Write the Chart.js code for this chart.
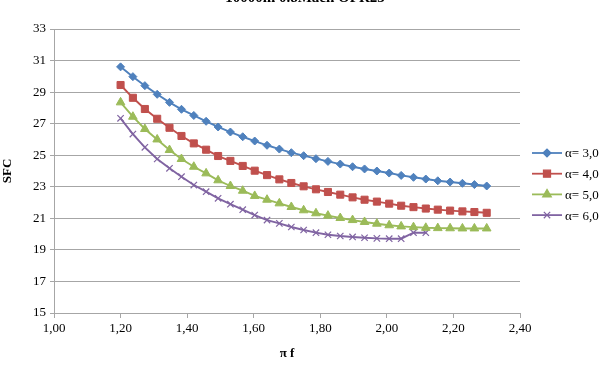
<!DOCTYPE html>
<html>
<head>
<meta charset="utf-8">
<script src="https://cdn.jsdelivr.net/npm/chart.js@4"></script>
<style>
  html, body { margin: 0; padding: 0; background: #fff; }
  #wrap { width: 610px; height: 367px; }
</style>
</head>
<body>
<div id="wrap"><canvas id="grafico"></canvas></div>
<script>
var titulo = '10000m 0.8Mach OPR25';

var piF = [1.200, 1.237, 1.273, 1.310, 1.347, 1.383, 1.420, 1.457, 1.493, 1.530,
           1.567, 1.603, 1.640, 1.677, 1.713, 1.750, 1.787, 1.823, 1.860, 1.897,
           1.933, 1.970, 2.007, 2.043, 2.080, 2.117, 2.153, 2.190, 2.227, 2.263, 2.300];

var sfcAlfa3 = [30.60, 29.98, 29.41, 28.86, 28.35, 27.91, 27.52, 27.15, 26.79, 26.47,
                26.17, 25.90, 25.63, 25.39, 25.16, 24.97, 24.78, 24.61, 24.44, 24.27,
                24.13, 24.00, 23.87, 23.72, 23.60, 23.49, 23.38, 23.30, 23.22, 23.14, 23.05];
var sfcAlfa4 = [29.45, 28.64, 27.93, 27.31, 26.74, 26.22, 25.75, 25.35, 24.95, 24.64,
                24.32, 24.02, 23.74, 23.47, 23.24, 23.03, 22.84, 22.67, 22.50, 22.33,
                22.18, 22.06, 21.93, 21.80, 21.71, 21.62, 21.55, 21.49, 21.44, 21.40, 21.35];
var sfcAlfa5 = [28.35, 27.44, 26.66, 26.00, 25.33, 24.76, 24.27, 23.85, 23.41, 23.05,
                22.75, 22.42, 22.18, 21.95, 21.72, 21.51, 21.32, 21.17, 21.02, 20.89,
                20.77, 20.66, 20.56, 20.49, 20.44, 20.40, 20.38, 20.37, 20.36, 20.36, 20.36];
var sfcAlfa6 = [27.34, 26.34, 25.50, 24.76, 24.17, 23.64, 23.11, 22.69, 22.27, 21.90,
                21.55, 21.21, 20.89, 20.68, 20.45, 20.26, 20.09, 19.96, 19.88, 19.82,
                19.77, 19.73, 19.71, 19.71, 20.09, 20.09];

var legendas = ['α= 3,0', 'α= 4,0', 'α= 5,0', 'α= 6,0'];
var cores = ['#4F81BD', '#C0504D', '#9BBB59', '#8064A2'];
var marcadores = ['rectRot', 'rect', 'triangle', 'crossRot'];
var tamanhos = [4, 5, 5, 4.5];

function _pontos(valores) {
    return valores.map(function (v, i) { return { x: piF[i], y: v }; });
}

var series = [sfcAlfa3, sfcAlfa4, sfcAlfa5, sfcAlfa6];
var datasets = series.map(function (s, i) {
    return {
        label: legendas[i],
        data: _pontos(s),
        borderColor: cores[i],
        backgroundColor: cores[i],
        borderWidth: 1.9,
        pointStyle: marcadores[i],
        pointRadius: tamanhos[i],
        pointBorderWidth: i == 3 ? 1.2 : 1,
        pointBorderColor: cores[i],
        tension: 0
    };
});

var fonteSerif = 'Liberation Serif, Times New Roman, serif';

// legenda com linha + marcador, igual ao Excel
var legendaPlugin = {
    id: 'legendaExcel',
    afterDraw: function (chart) {
        var ctx = chart.ctx;
        ctx.save();
        for (var i = 0; i < legendas.length; i++) {
            var y = 153 + i * 20.7;
            ctx.strokeStyle = cores[i];
            ctx.lineWidth = 1.8;
            ctx.beginPath();
            ctx.moveTo(532, y);
            ctx.lineTo(562, y);
            ctx.stroke();
            ctx.fillStyle = cores[i];
            ctx.lineWidth = 1.2;
            Chart.helpers.drawPoint(ctx, { pointStyle: marcadores[i], radius: tamanhos[i], rotation: 0, borderWidth: 1 }, 547, y);
            ctx.fillStyle = '#000';
            ctx.font = '13px ' + fonteSerif;
            ctx.textAlign = 'left';
            ctx.textBaseline = 'middle';
            ctx.fillText(legendas[i], 565, y + 1);
        }
        // titulo cortado no topo
        ctx.font = 'bold 15px ' + fonteSerif;
        ctx.textAlign = 'center';
        ctx.textBaseline = 'alphabetic';
        ctx.fillStyle = '#000';
        ctx.fillText(titulo, 305, 2);
        ctx.restore();
    }
};

new Chart(document.getElementById('grafico'), {
    type: 'line',
    data: { datasets: datasets },
    plugins: [legendaPlugin],
    options: {
        responsive: true,
        maintainAspectRatio: false,
        animation: false,
        layout: { padding: { top: 29, right: 90, left: 0, bottom: 0 } },
        plugins: {
            legend: { display: false },
            tooltip: { enabled: false }
        },
        scales: {
            x: {
                type: 'linear',
                min: 1.0,
                max: 2.4,
                afterFit: function (scale) { scale.height = 54; },
                ticks: {
                    stepSize: 0.2,
                    color: '#000',
                    padding: 3,
                    maxRotation: 0,
                    font: { family: fonteSerif, size: 13 },
                    callback: function (v) { return v.toFixed(2).replace('.', ','); }
                },
                grid: { drawOnChartArea: false, drawTicks: true, tickLength: 5, color: '#A6A6A6' },
                border: { color: '#A6A6A6', width: 1 },
                title: {
                    display: true,
                    text: 'π f',
                    color: '#000',
                    padding: { top: 2, bottom: 6 },
                    font: { family: fonteSerif, size: 13, weight: 'bold' }
                }
            },
            y: {
                min: 15,
                max: 33,
                afterFit: function (scale) { scale.width = 54; },
                ticks: {
                    stepSize: 2,
                    color: '#000',
                    padding: 4,
                    font: { family: fonteSerif, size: 13 }
                },
                grid: { color: '#A6A6A6', lineWidth: 1, drawTicks: true, tickLength: 4 },
                border: { color: '#A6A6A6', width: 1 },
                title: {
                    display: true,
                    text: 'SFC',
                    color: '#000',
                    padding: { top: 0, bottom: 0 },
                    font: { family: fonteSerif, size: 13, weight: 'bold' }
                }
            }
        }
    }
});
</script>
</body>
</html>
